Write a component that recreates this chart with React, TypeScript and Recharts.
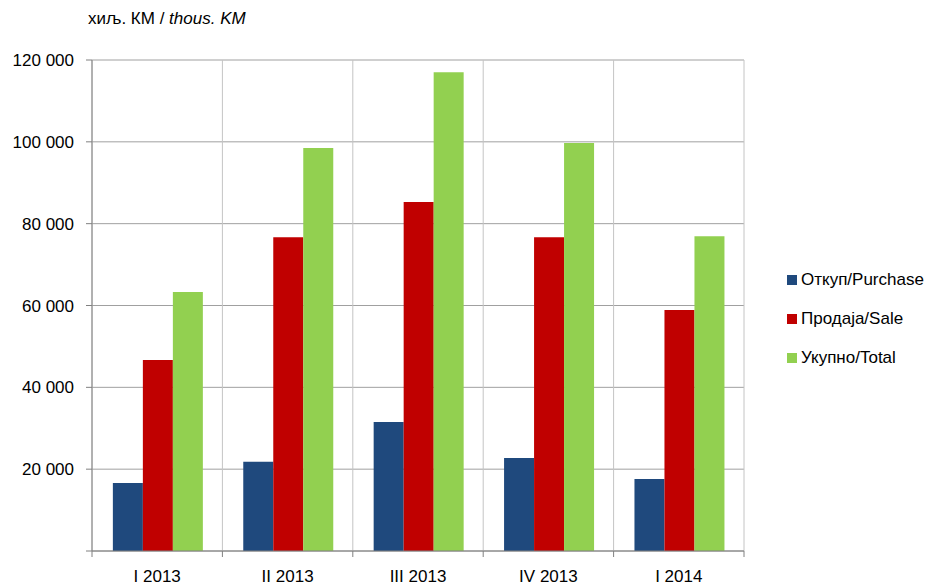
import { BarChart, Bar, XAxis, YAxis, CartesianGrid } from 'recharts'

const quarters = ['I 2013', 'II 2013', 'III 2013', 'IV 2013', 'I 2014']
const purchase = [16600, 21800, 31500, 22700, 17600]
const sale = [46700, 76700, 85300, 76700, 58900]
const total = [63300, 98500, 117000, 99700, 76900]
const yTicks = [0, 20000, 40000, 60000, 80000, 100000, 120000]

const seriesNames = ['Откуп/Purchase', 'Продаја/Sale', 'Укупно/Total']
const seriesColors = ['#1F497D', '#C00000', '#92D050']

const W = 929
const H = 587
const M = { top: 60, right: 185, bottom: 0, left: 0 }
const Y_W = 92
const X_H = 36
const FONT = '"Liberation Sans", Arial, sans-serif'
const FS = 17

const data = quarters.map((q, i) => ({
      name: q,
      purchase: purchase[i],
      sale: sale[i],
      total: total[i]
}))

const fmt = (v: number) => (v === 0 ? '' : v.toLocaleString('en-US').replace(/,/g, ' '))

// x ticks: label in the middle, tick marks on the category borders
const XTick = (props: any) => {
      const { payload, index, y } = props
      const band = (W - M.right - M.left - Y_W) / quarters.length
      const cx = payload.coordinate
      const top = y - 8
      return (
            <g>
                  <line x1={cx - band / 2} x2={cx - band / 2} y1={top} y2={top + 6} stroke="#808080" />
                  {index === quarters.length - 1 && (
                        <line x1={cx + band / 2} x2={cx + band / 2} y1={top} y2={top + 6} stroke="#808080" />
                  )}
                  <text x={cx} y={top + 31} textAnchor="middle" fill="#000" fontSize={FS} fontFamily={FONT}>
                        {payload.value}
                  </text>
            </g>
      )
}

export default function App() {
      return (
            <div style={{ position: 'absolute', left: 0, top: 0, width: W, height: H, background: '#fff', fontFamily: FONT }}>
                  <div style={{ position: 'absolute', left: 88, top: 9, fontSize: FS, color: '#000', whiteSpace: 'nowrap' }}>
                        хиљ. КМ / <i>thous. KM</i>
                  </div>
                  <BarChart width={W} height={H} data={data} margin={M} barCategoryGap="16%" barGap={0}>
                        <CartesianGrid vertical={false} stroke="#a0a0a0" />
                        <CartesianGrid
                              horizontal={false}
                              stroke="#c4c4c4"
                              verticalCoordinatesGenerator={({ offset }: any) =>
                                    quarters.map((_, i) => offset.left + (offset.width * i) / quarters.length).concat(offset.left + offset.width)
                              }
                        />
                        <XAxis dataKey="name" height={X_H} stroke="#808080" tickLine={false} tick={<XTick />} interval={0} />
                        <YAxis
                              width={Y_W}
                              domain={[0, 120000]}
                              ticks={yTicks}
                              tickFormatter={fmt}
                              stroke="#808080"
                              tickSize={6}
                              tickMargin={12}
                              tick={{ fill: '#000', fontSize: FS, fontFamily: FONT }}
                        />
                        <Bar dataKey="purchase" fill={seriesColors[0]} isAnimationActive={false} />
                        <Bar dataKey="sale" fill={seriesColors[1]} isAnimationActive={false} />
                        <Bar dataKey="total" fill={seriesColors[2]} isAnimationActive={false} />
                  </BarChart>
                  <div style={{ position: 'absolute', left: 787, top: 260 }}>
                        {seriesNames.map((n, i) => (
                              <div key={n} style={{ display: 'flex', alignItems: 'center', height: 39, fontSize: FS, color: '#000' }}>
                                    <span style={{ width: 10, height: 10, background: seriesColors[i], marginRight: 4, display: 'inline-block' }} />
                                    {n}
                              </div>
                        ))}
                  </div>
            </div>
      )
}
